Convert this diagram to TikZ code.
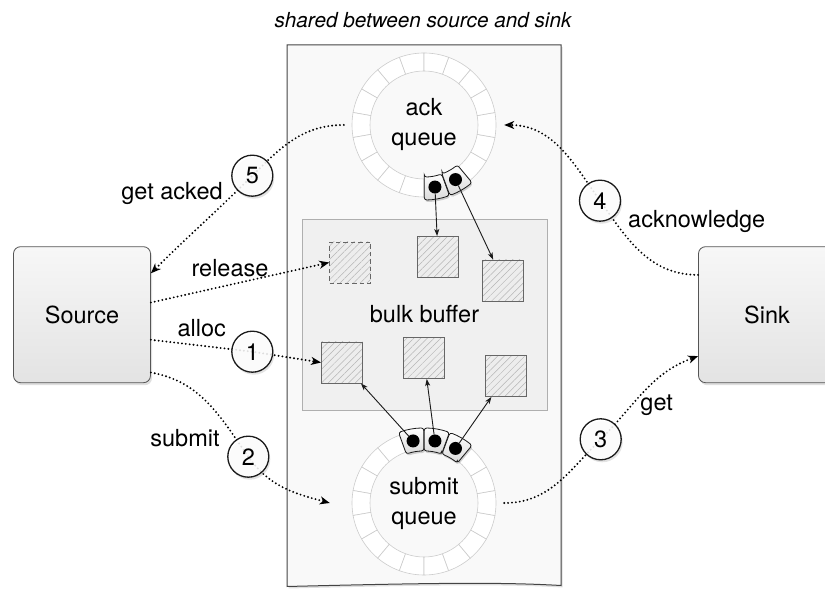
\documentclass[tikz,border=0pt]{standalone}
\usepackage{fontspec}
\setmainfont{TeX Gyre Heros}
\usetikzlibrary{arrows.meta,calc,shadows,patterns.meta}
\pgfdeclarelayer{fg}
\pgfsetlayers{main,fg}
\definecolor{linec}{HTML}{1A1A1A}
\definecolor{boxfill}{HTML}{F9F9F9}
\definecolor{boxline}{HTML}{444444}
\definecolor{bulkfill}{HTML}{F0F0F0}
\definecolor{bulkline}{HTML}{AFAFAF}
\definecolor{sqfill}{HTML}{EDEDED}
\definecolor{sqline}{HTML}{666666}
\definecolor{hatch}{HTML}{B5B5B5}
\definecolor{cellline}{HTML}{CCCCCC}
\definecolor{bigtop}{HTML}{F7F7F7}
\definecolor{bigbot}{HTML}{E3E3E3}
\definecolor{bigline}{HTML}{555555}
\definecolor{hlbot}{HTML}{DADADA}
\begin{document}
\begin{tikzpicture}[x=1pt,y=1pt,
  lbl/.style={font=\fontsize{23.5}{27}\selectfont, inner sep=0pt},
  numc/.style={circle, draw=linec, line width=1.3pt, fill=white, fill opacity=0.85, text opacity=1,
    minimum size=41pt, inner sep=0pt, font=\fontsize{23.5}{27}\selectfont,
    drop shadow={opacity=0.22, shadow xshift=1.5pt, shadow yshift=-2.5pt}},
  dotl/.style={draw=black, line width=2.1pt, line cap=round, dash pattern=on 0pt off 3.9pt},
  tipd/.style={-{Stealth[length=10pt,width=8pt,inset=3pt]}},
  bigbox/.style={rectangle, rounded corners=7pt, minimum width=137pt, minimum height=136pt,
    top color=bigtop, bottom color=bigbot, draw=bigline, line width=0.8pt,
    font=\fontsize{23.5}{27}\selectfont,
    drop shadow={opacity=0.25, shadow xshift=1.5pt, shadow yshift=-2.5pt}},
  sqbox/.style={rectangle, minimum size=41pt, inner sep=0pt, draw=sqline, line width=0.9pt,
    preaction={fill=sqfill}, pattern={Lines[angle=45,distance=4.8pt,line width=0.5pt]}, pattern color=hatch},
  sqdash/.style={sqbox, dash pattern=on 4.5pt off 3pt},
  cell/.style={draw=cellline, fill=white, line width=0.6pt},
  hlcell/.style={draw=linec, line width=0.8pt, rounded corners=2.5pt, top color=white, bottom color=hlbot,
    drop shadow={opacity=0.35, shadow xshift=1pt, shadow yshift=-2pt}},
  ball/.style={circle, fill=black, minimum size=13pt, inner sep=0pt},
  barr/.style={draw=linec, line width=0.9pt, -{Stealth[length=7pt,width=5pt,inset=1.8pt]}},
  queue/.style={circle, minimum size=160pt, inner sep=0pt, align=center, font=\fontsize{23.5}{30}\selectfont}
]
\useasboundingbox (0,0) rectangle (825,589);

% title
\node[font=\itshape\fontsize{20.7}{24}\selectfont] (title) at (423,569) {shared between source and sink};

% shared area
\path[draw=boxline, line width=1pt, fill=boxfill, drop shadow={opacity=0.25, shadow xshift=1.5pt, shadow yshift=-2pt}]
  (287,544) -- (561,544) -- (561,3.5) .. controls (500,7) and (430,6) .. (287,2.5) -- cycle;

% bulk buffer
\node[draw=bulkline, fill=bulkfill, line width=0.8pt, minimum width=245pt, minimum height=191pt, inner sep=0pt,
  font=\fontsize{23.5}{27}\selectfont] (bulk) at (424.5,274.5) {bulk buffer};

% rings
\foreach \cx/\cy in {424/464, 424/86} {
  \begin{scope}[shift={(\cx,\cy)}]
    \foreach \a in {90,110,...,430} {
      \draw[cell] (\a:54) -- (\a:72) arc[start angle=\a, end angle=\a+20, radius=72]
        -- (\a+20:54) arc[start angle=\a+20, end angle=\a, radius=54] -- cycle;
    }
  \end{scope}
}

\node[queue] (ackq) at (424,464) {ack\\queue};
\node[queue] (subq) at (424,86) {submit\\queue};

% squares
\node[sqdash] (sqD) at (350,326.5) {};
\node[sqbox] (sqA) at (438,332) {};
\node[sqbox] (sqB) at (503,308.5) {};
\node[sqbox] (sqC) at (342,226.5) {};
\node[sqbox] (sqE) at (424,231) {};
\node[sqbox] (sqF) at (506,213) {};

% highlighted cells
\newcommand\hlc[1]{\draw[hlcell] (#1-9.8:52) -- (#1-9.8:75) arc[start angle=#1-9.8, end angle=#1+9.8, radius=75]
  -- (#1+9.8:52) arc[start angle=#1+9.8, end angle=#1-9.8, radius=52] -- cycle;}
\begin{scope}[shift={(424,464)}]
  \hlc{-80}
  \hlc{-60}
\end{scope}
\begin{scope}[shift={(424,86)}]
  \hlc{100}
  \hlc{80}
  \hlc{60}
\end{scope}

\node[ball] (ab1) at ($(ackq.center)+(-80:63)$) {};
\node[ball] (ab2) at ($(ackq.center)+(-60:63)$) {};
\node[ball] (sb1) at ($(subq.center)+(100:63)$) {};
\node[ball] (sb2) at ($(subq.center)+(80:63)$) {};
\node[ball] (sb3) at ($(subq.center)+(60:63)$) {};

\draw[barr] (ab1) -- (sqA);
\draw[barr] (ab2) -- (sqB);
\draw[barr] (sb1) -- (sqC);
\draw[barr] (sb2) -- (sqE);
\draw[barr] (sb3) -- (sqF);

% source and sink
\node[bigbox] (src) at (82,274.3) {Source};
\node[bigbox] (sink) at (767,274.3) {Sink};

% numbered circles (on top)
\begin{pgfonlayer}{fg}
\node[numc] (n5) at (252.3,413.3) {5};
\node[numc] (n1) at (252.3,237.3) {1};
\node[numc] (n2) at (248.3,132.3) {2};
\node[numc] (n3) at (600.7,149.7) {3};
\node[numc] (n4) at (600,388.3) {4};
\end{pgfonlayer}

\coordinate (subin) at ($(subq.west)+(-14,0)$);

% connectors
\draw[dotl, tipd] (ackq.west) to[out=180,in=45] (n5.center) to[out=225,in=45] (src.31);
\draw[dotl, tipd] (src.10) -- (sqD.west);
\draw[dotl, tipd] (src.-20) -- (n1.center) -- (sqC.west);
\draw[dotl, tipd] (src.-40) to[out=-10,in=125] (n2.center) to[out=-55,in=165] (subin);
\draw[dotl, tipd] (subq.east) to[out=0,in=225] (n3.center) to[out=45,in=200] (sink.211);
\draw[dotl, tipd] (sink.150) to[out=180,in=-55] (n4.center) to[out=125,in=0] (ackq.east);

% labels
\node[lbl] (lga) at (172,395) {get acked};
\node[lbl] (lrel) at (230,321) {release};
\node[lbl] (lal) at (201.7,261) {alloc};
\node[lbl] (lsub) at (185,151) {submit};
\node[lbl] (lget) at (656.7,184) {get};
\node[lbl] (lack) at (696.7,367.3) {acknowledge};
\end{tikzpicture}
\end{document}
